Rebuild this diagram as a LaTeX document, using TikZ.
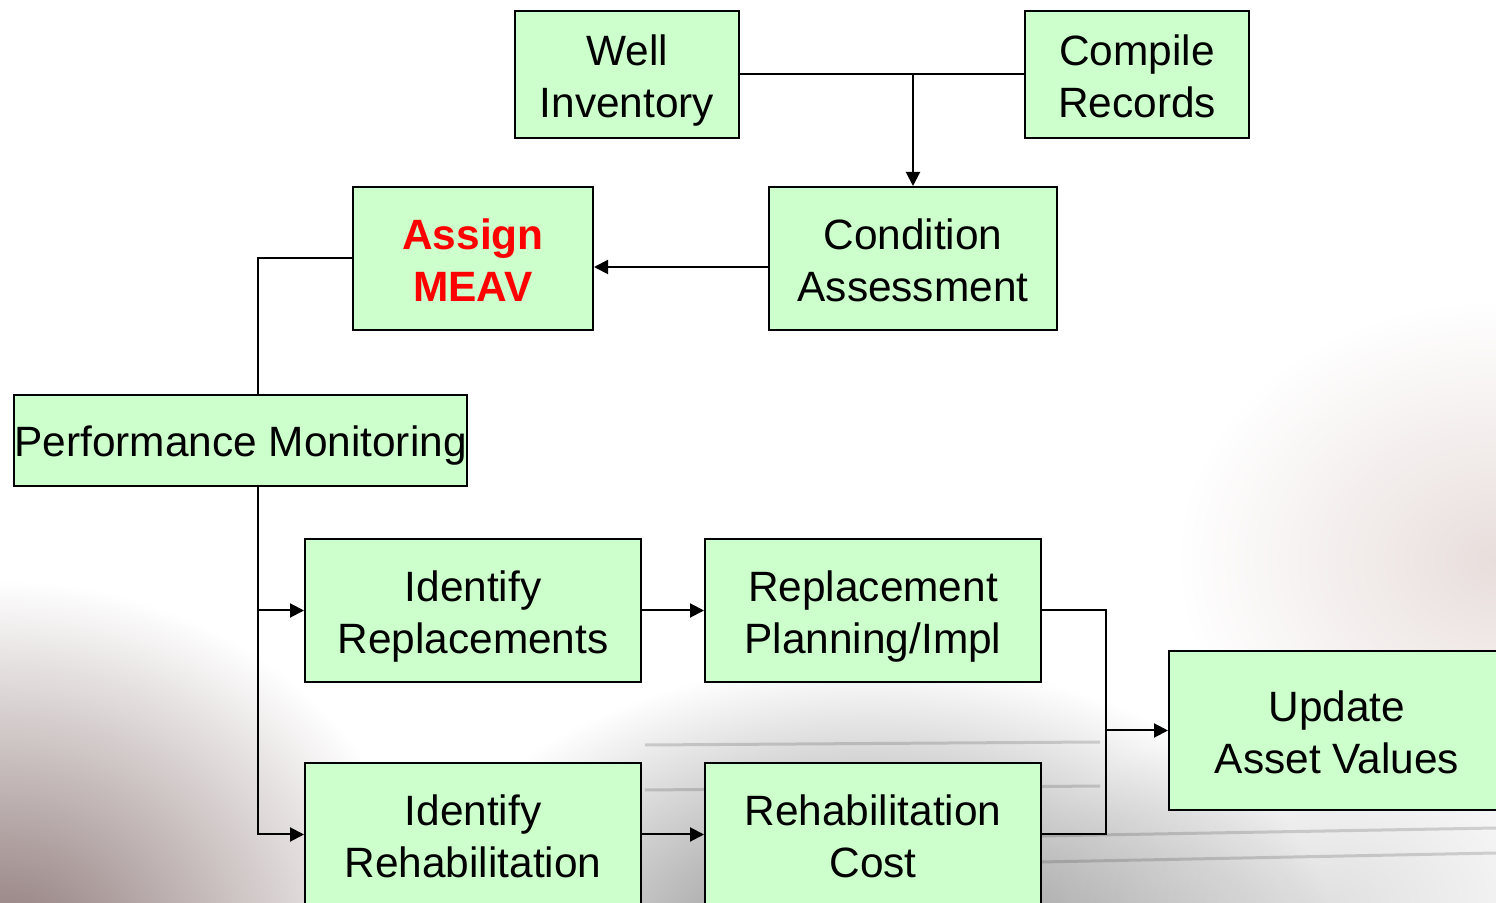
\documentclass[tikz,border=0pt]{standalone}
\usepackage{fontspec}
\setmainfont{Liberation Sans}
\usetikzlibrary{arrows.meta,calc}
\definecolor{boxfill}{RGB}{204,255,204}
\definecolor{meavred}{RGB}{255,0,0}
\definecolor{warmgrey}{RGB}{140,118,118}
\definecolor{pinkhaze}{RGB}{232,222,220}
% two centred lines; the tall strut on the first line lowers them a little
\newcommand{\boxtext}[2]{\begin{tabular}{@{}c@{}}\rule{0pt}{25.2pt}#1\\#2\end{tabular}}
% sizes given in pixels of a 0.5pt grid
\tikzset{
  stepbox/.style={draw=black, line width=1pt, fill=boxfill, rectangle,
    inner sep=0pt, font=\fontsize{21.2}{26}\selectfont},
  boxsize/.style 2 args={minimum width=#1*0.5pt, minimum height=#2*0.5pt},
  link/.style={draw=black, line width=1pt},
  arr/.style={link, -{Triangle[length=7pt,width=7pt]}},
  streak/.style={draw=black!50, line width=1.5pt, opacity=0.3}
}
\begin{document}
\begin{tikzpicture}[x=0.5pt,y=-0.5pt]
  \useasboundingbox (0,0) rectangle (1496,903);
  \clip (0,0) rectangle (1496,903);
  \fill[white] (0,0) rectangle (1496,903);
  % faded backdrop photograph
  \begin{scope}[blend mode=multiply]
    \shade[inner color=pinkhaze, outer color=white] (1496,560) ellipse (320 and 260);
    \shade[inner color=warmgrey, outer color=white] (0,960) ellipse (430 and 380);
    \shade[inner color=black!50, outer color=white] (870,960) ellipse (470 and 300);
    \shade[inner color=black!12, outer color=white] (1330,903) ellipse (300 and 200);
    \draw[streak] (645,745) -- (1100,742);
    \draw[streak] (645,790) -- (1100,786);
    \draw[streak] (1040,836) -- (1496,828);
    \draw[streak] (1040,862) -- (1496,853);
  \end{scope}

  % boxes
  \node[stepbox, boxsize={224}{127}] (well) at (627,74.5) {\boxtext{Well}{Inventory}};
  \node[stepbox, boxsize={224}{127}] (comp) at (1137,74.5) {\boxtext{Compile}{Records}};
  \node[stepbox, boxsize={288}{143}] (cond) at (913,258.5) {\boxtext{Condition}{Assessment}};
  \node[stepbox, boxsize={240}{143}, text=meavred, font=\fontsize{21.2}{26}\selectfont\bfseries] (meav) at (473,258.5) {\boxtext{Assign}{MEAV}};
  \node[stepbox, boxsize={453}{91}] (perf) at (240.5,440.5) {\rule{0pt}{20pt}Performance Monitoring};
  \node[stepbox, boxsize={336}{143}] (idrep) at (473,610.5) {\boxtext{Identify}{Replacements}};
  \node[stepbox, boxsize={336}{143}] (rpl) at (873,610.5) {\boxtext{Replacement}{Planning/Impl}};
  \node[stepbox, boxsize={336}{159}] (upd) at (1337,730.5) {\boxtext{Update}{Asset Values}};
  \node[stepbox, boxsize={336}{143}] (idreh) at (473,834.5) {\boxtext{Identify}{Rehabilitation}};
  \node[stepbox, boxsize={336}{143}] (rcost) at (873,834.5) {\boxtext{Rehabilitation}{Cost}};

  % junction points
  \coordinate (top) at ($(perf.north)+(17.5,0)$);
  \coordinate (bot) at ($(perf.south)+(17.5,0)$);
  \coordinate (cw) at ($(cond.west)+(0,8.5)$);
  \coordinate (merge) at ($(rpl.east)+(64,0)$);
  \coordinate (mid) at (merge |- upd.west);

  % connectors
  \draw[arr] (well.east) -| (cond.north);
  \draw[link] (comp.west) -- (comp.west -| cond.north);
  \draw[arr] (cw) -- (cw -| meav.east);
  \draw[link] (meav.west) -| (top);
  \draw[arr] (bot) |- (idrep.west);
  \draw[arr] (bot) |- (idreh.west);
  \draw[arr] (idrep.east) -- (rpl.west);
  \draw[arr] (idreh.east) -- (rcost.west);
  \draw[link] (rpl.east) -- (merge) |- (rcost.east);
  \draw[arr] (mid) -- (upd.west);
\end{tikzpicture}
\end{document}
